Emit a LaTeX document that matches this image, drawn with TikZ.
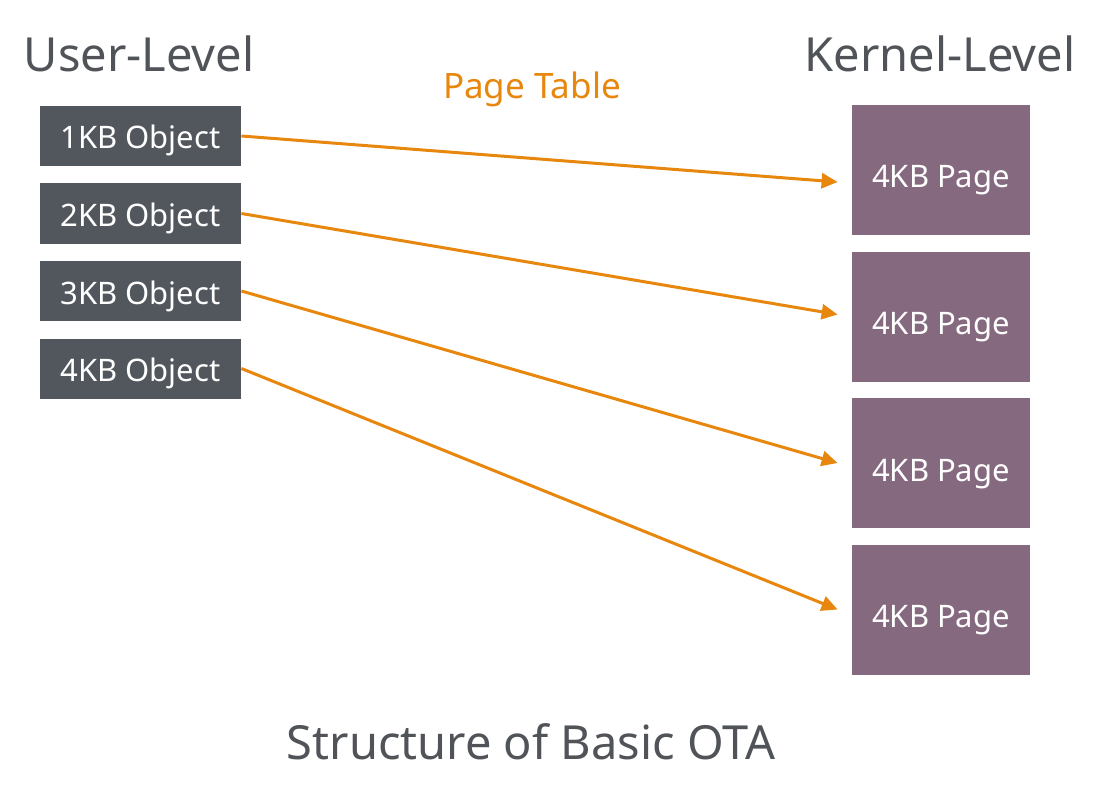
\documentclass[tikz,border=0pt]{standalone}
\usepackage{fontspec}
\setmainfont{Noto Sans}
\usetikzlibrary{arrows.meta,positioning}
\definecolor{objgray}{HTML}{52565D}
\definecolor{pagepurple}{HTML}{85697E}
\definecolor{tableorange}{HTML}{E8870E}
\definecolor{titlegray}{HTML}{505358}
\begin{document}
\begin{tikzpicture}[x=0.5pt,y=-0.5pt,
  objbox/.style={fill=objgray,text=white,minimum width=100.5pt,minimum height=30pt,inner sep=0pt,text height=13pt,text depth=0pt,font=\fontsize{15.5}{18}\selectfont},
  pagebox/.style={fill=pagepurple,text=white,minimum width=89pt,minimum height=65pt,inner sep=0pt,text height=18pt,text depth=0pt,font=\fontsize{15.5}{18}\selectfont},
  level/.style={text=titlegray,inner sep=0pt,font=\fontsize{23.5}{28}\selectfont},
  link/.style={draw=tableorange,line width=1.5pt,-{Triangle[length=8pt,width=7.5pt]}}]
 \useasboundingbox (0,0) rectangle (1106,802);
 \node[level] (user) at (139,54) {User-Level};
 \node[level] (kernel) at (940,54) {Kernel-Level};
 \node[text=tableorange,inner sep=0pt,font=\fontsize{17.5}{20}\selectfont] (table) at (532,89) {Page Table};
 \node[objbox] (obj1) at (140.5,136) {1KB Object};
 \node[objbox] (obj2) at (140.5,213.5) {2KB Object};
 \node[objbox] (obj3) at (140.5,291) {3KB Object};
 \node[objbox] (obj4) at (140.5,368.5) {4KB Object};
 \node[pagebox] (page1) at (941,170) {4KB Page};
 \node[pagebox] (page2) at (941,316.5) {4KB Page};
 \node[pagebox] (page3) at (941,463) {4KB Page};
 \node[pagebox] (page4) at (941,609.5) {4KB Page};
 \draw[link] (obj1.east) -- ([xshift=-7pt,yshift=-6pt]page1.west);
 \draw[link] (obj2.east) -- ([xshift=-7pt,yshift=1pt]page2.west);
 \draw[link] (obj3.east) -- ([xshift=-7pt]page3.west);
 \draw[link] (obj4.east) -- ([xshift=-7pt]page4.west);
 \node[level] (caption) at (531,742) {Structure of Basic OTA};
\end{tikzpicture}
\end{document}
